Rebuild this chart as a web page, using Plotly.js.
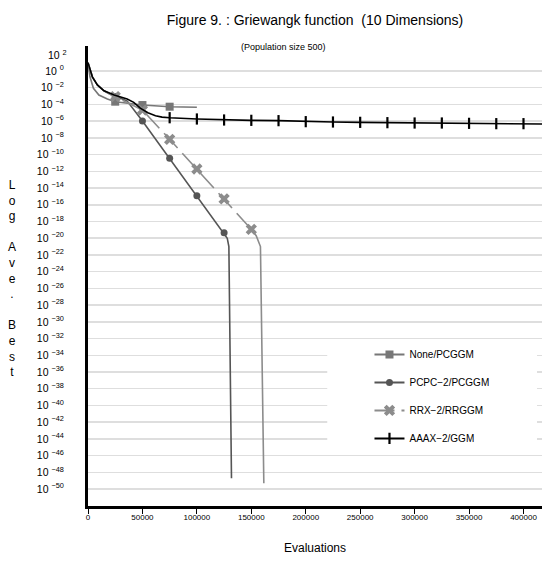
<!DOCTYPE html>
<html>
<head>
<meta charset="utf-8">
<script src="https://cdn.plot.ly/plotly-3.0.1.min.js"></script>
<style>html,body{margin:0;padding:0;background:#fff;}#chart{width:542px;height:564px;}</style>
</head>
<body>
<div id="chart"></div>
<script>
// ---- data (y stored as log10 of the average best value) ----
const xTickVals = [0, 50000, 100000, 150000, 200000, 250000, 300000, 350000, 400000];
const yTickExps = [0, -2, -4, -6, -8, -10, -12, -14, -16, -18, -20, -22, -24, -26, -28, -30, -32, -34, -36, -38, -40, -42, -44, -46, -48, -50];
const topTickExp = 2;

const seriesNames = ["None/PCGGM", "PCPC\u22122/PCGGM", "RRX\u22122/RRGGM", "AAAX\u22122/GGM"];

const noneX   = [0, 1800, 5000, 10000, 17800, 25000, 50000, 75000, 100000];
const noneLog = [1.0, -0.7, -2.07, -2.87, -3.35, -3.67, -4.07, -4.27, -4.34];
const noneMarkX = [25000, 50000, 75000];

const pcpcX   = [0, 4000, 8600, 14700, 20000, 25000, 30000, 36000, 50000, 75000, 100000, 125000, 127900, 129400, 131800];
const pcpcLog = [1.0, -0.7, -1.67, -2.36, -2.75, -3.05, -3.25, -3.6, -5.98, -10.44, -14.92, -19.34, -20.0, -21.0, -48.7];
const pcpcMarkX = [25000, 50000, 75000, 100000, 125000];

const rrxX   = [0, 4000, 8600, 14700, 20000, 25000, 37500, 50000, 75000, 100000, 125000, 150000, 154500, 158400, 161500];
const rrxLog = [1.0, -0.7, -1.67, -2.36, -2.75, -3.07, -3.85, -4.67, -8.17, -11.72, -15.3, -18.94, -19.7, -21.0, -49.3];
const rrxMarkX = [25000, 50000, 75000, 100000, 125000, 150000];
const rrxDashEndX = 150000; // dashed up to here, solid tail afterwards

const aaaxX   = [0, 4000, 8600, 14700, 24000, 36000, 42000, 48000, 55000, 62000, 68000, 75000, 100000, 125000, 150000, 175000, 200000, 225000, 250000, 275000, 300000, 325000, 350000, 375000, 400000, 417000];
const aaaxLog = [1.0, -0.7, -1.67, -2.36, -2.87, -3.35, -3.75, -4.45, -5.0, -5.35, -5.52, -5.59, -5.74, -5.86, -5.9, -5.94, -6.06, -6.1, -6.14, -6.18, -6.22, -6.22, -6.26, -6.3, -6.3, -6.34];
const aaaxMarkX = [75000, 100000, 125000, 150000, 175000, 200000, 225000, 250000, 275000, 300000, 325000, 350000, 375000, 400000];

// ---- styles ----
const FONT = "Liberation Sans, Arial, Helvetica, sans-serif";
const styles = [
  {color: "#777777", dash: "solid", symbol: "square", size: 8, lw: 0},
  {color: "#555555", dash: "solid", symbol: "circle", size: 7, lw: 0},
  {color: "#8c8c8c", dash: "20px,7px", symbol: "x", size: 10, lw: 0},
  {color: "#000000", dash: "solid", symbol: "line-ns", size: 8, lw: 2.2}
];
const series = [
  {x: noneX, lg: noneLog, mx: noneMarkX},
  {x: pcpcX, lg: pcpcLog, mx: pcpcMarkX},
  {x: rrxX, lg: rrxLog, mx: rrxMarkX, splitX: rrxDashEndX},
  {x: aaaxX, lg: aaaxLog, mx: aaaxMarkX}
];

const traces = [];
series.forEach((s, i) => {
  const st = styles[i];
  const y = s.lg.map(v => Math.pow(10, v));
  if (s.splitX !== undefined) {
    const k = s.x.indexOf(s.splitX);
    traces.push({
      x: s.x.slice(0, k + 1), y: y.slice(0, k + 1), type: "scatter", mode: "lines",
      line: {color: st.color, width: 1.6, dash: st.dash},
      showlegend: false, hoverinfo: "skip", legendgroup: "g" + i
    });
    traces.push({
      x: s.x.slice(k), y: y.slice(k), type: "scatter", mode: "lines",
      line: {color: st.color, width: 1.6, dash: "solid"},
      showlegend: false, hoverinfo: "skip", legendgroup: "g" + i
    });
  } else {
    traces.push({
      x: s.x, y: y, type: "scatter", mode: "lines",
      line: {color: st.color, width: 1.6, dash: st.dash},
      showlegend: false, hoverinfo: "skip", legendgroup: "g" + i
    });
  }
  const my = s.mx.map(xv => y[s.x.indexOf(xv)]);
  traces.push({
    x: s.mx, y: my, type: "scatter", mode: "markers",
    marker: {color: st.color, symbol: st.symbol, size: st.size,
             line: {width: st.lw, color: st.color}},
    showlegend: false, hoverinfo: "skip", legendgroup: "g" + i
  });
});
// legend-only entries
series.forEach((s, i) => {
  const st = styles[i];
  traces.push({
    x: [null], y: [null], type: "scatter", mode: "lines+markers",
    name: seriesNames[i], legendgroup: "g" + i,
    line: {color: st.color, width: 2, dash: st.dash},
    marker: {color: st.color, symbol: st.symbol, size: st.size,
             line: {width: st.lw, color: st.color}}
  });
});

const yTickText = yTickExps.map(e => "10 <sup>" + (e < 0 ? "\u2212" + (-e) : e) + "</sup>");

const layout = {
  width: 542, height: 564,
  margin: {l: 88, r: 0, t: 46, b: 58},
  paper_bgcolor: "#ffffff", plot_bgcolor: "#ffffff",
  font: {family: FONT, color: "#000000"},
  showlegend: true,
  title: {text: "Figure 9. : Griewangk function \u00a0(10 Dimensions)",
          font: {family: FONT, size: 14, color: "#000"},
          x: 0.5, xref: "paper", xanchor: "center", y: 0.965, yref: "container", yanchor: "middle"},
  xaxis: {
    range: [0, 417000], tickvals: xTickVals, tickformat: "d",
    showgrid: false, zeroline: false,
    showline: true, linecolor: "#000", linewidth: 3,
    ticks: "outside", ticklen: 5, tickwidth: 1, tickcolor: "#000",
    ticklabelstandoff: -4,
    tickfont: {family: FONT, size: 8, color: "#000"},
    title: {text: "Evaluations", font: {family: FONT, size: 12, color: "#000"}, standoff: 24}
  },
  yaxis: {
    type: "log", range: [-52.03, 2.99],
    tickvals: yTickExps.map(e => Math.pow(10, e)), ticktext: yTickText,
    showgrid: true, gridcolor: "#dedede", gridwidth: 1.5, zeroline: false,
    showline: true, linecolor: "#000", linewidth: 3,
    ticks: "", ticklabelstandoff: 19,
    tickfont: {family: FONT, size: 10.5, color: "#000"}
  },
  legend: {
    x: 0.62, xanchor: "left", y: 0.361, yanchor: "top",
    bgcolor: "rgba(255,255,255,1)", borderwidth: 0,
    font: {family: FONT, size: 10, color: "#000"},
    traceorder: "grouped", tracegroupgap: 9
  },
  shapes: [{
    type: "rect", xref: "paper", yref: "paper", layer: "above",
    x0: 0.527, x1: 0.989, y0: 0.125, y1: 0.354,
    fillcolor: "#ffffff", line: {width: 0}
  }],
  annotations: [
    {text: "(Population size 500)", xref: "paper", yref: "paper",
     x: (283 - 88) / 454, y: (506 - 47) / 460, xanchor: "center", yanchor: "middle",
     showarrow: false, font: {family: FONT, size: 9, color: "#000"}},
    {text: "10 <sup>" + topTickExp + "</sup>", xref: "paper", yref: "y",
     x: -0.042, y: topTickExp, xanchor: "right", yanchor: "middle",
     showarrow: false, font: {family: FONT, size: 10.5, color: "#000"}},
    {text: "L<br>o<br>g<br> <br>A<br>v<br>e<br>.<br> <br>B<br>e<br>s<br>t",
     xref: "paper", yref: "paper", x: (12 - 88) / 454, y: (506 - 278) / 460,
     xanchor: "center", yanchor: "middle", showarrow: false,
     font: {family: FONT, size: 12, color: "#000"}}
  ]
};

Plotly.newPlot("chart", traces, layout, {staticPlot: true, displayModeBar: false});
</script>
</body>
</html>
